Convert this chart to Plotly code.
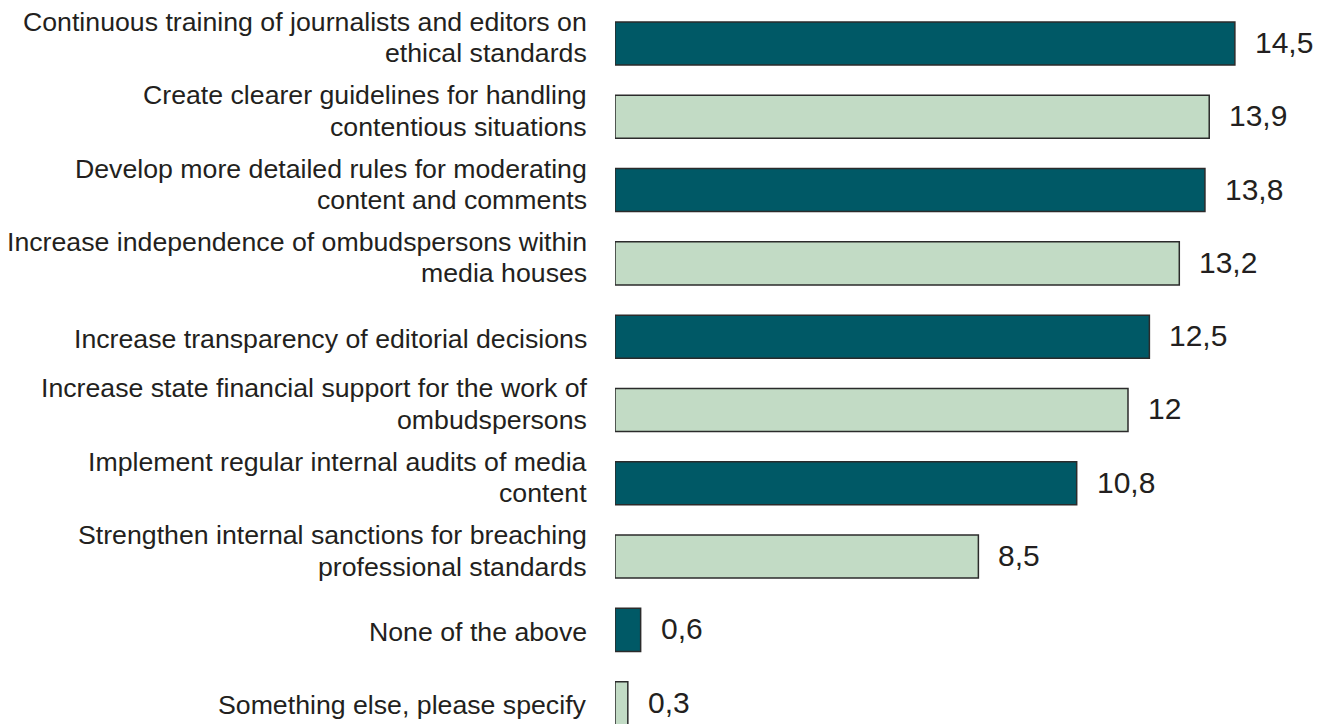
import plotly.graph_objects as go

categories = [
    "Continuous training of journalists and editors on<br>ethical standards",
    "Create clearer guidelines for handling<br>contentious situations",
    "Develop more detailed rules for moderating<br>content and comments",
    "Increase independence of ombudspersons within<br>media houses",
    "Increase transparency of editorial decisions",
    "Increase state financial support for the work of<br>ombudspersons",
    "Implement regular internal audits of media<br>content",
    "Strengthen internal sanctions for breaching<br>professional standards",
    "None of the above",
    "Something else, please specify",
]
values = [14.5, 13.9, 13.8, 13.2, 12.5, 12.0, 10.8, 8.5, 0.6, 0.3]
value_labels = ["14,5", "13,9", "13,8", "13,2", "12,5", "12", "10,8", "8,5", "0,6", "0,3"]

DARK = "#005966"
LIGHT = "#c2dbc5"
TEXT = "#231f20"
FONT = "Liberation Sans, Arial, Helvetica, sans-serif"

positions = list(range(len(categories)))
colors = [DARK if i % 2 == 0 else LIGHT for i in positions]

fig = go.Figure(
    go.Bar(
        x=values,
        y=positions,
        orientation="h",
        width=0.587,
        marker=dict(color=colors, line=dict(color="#2b2b2b", width=1.5)),
        hoverinfo="skip",
    )
)

annotations = []
# Category labels: each text line is placed on its own so the line spacing stays tight
for pos, cat in zip(positions, categories):
    lines = cat.split("<br>")
    shifts = [-2] if len(lines) == 1 else [21.5, -10]
    for line, dy in zip(lines, shifts):
        annotations.append(dict(
            x=0, xref="paper", y=pos, yref="y",
            text=line, showarrow=False,
            xanchor="right", yanchor="middle", align="right",
            xshift=-26, yshift=dy,
            font=dict(family=FONT, size=26.7, color=TEXT),
        ))
# Value labels to the right of each bar
for pos, val, lab in zip(positions, values, value_labels):
    annotations.append(dict(
        x=val, xref="x", y=pos, yref="y",
        text=lab, showarrow=False,
        xanchor="left", yanchor="middle",
        xshift=18, yshift=1,
        font=dict(family=FONT, size=30, color=TEXT),
    ))

fig.update_layout(
    width=1318, height=724,
    margin=dict(l=615, r=19, t=0, b=0),
    paper_bgcolor="white", plot_bgcolor="white",
    showlegend=False,
    annotations=annotations,
    xaxis=dict(range=[0, 16], visible=False, fixedrange=True),
    yaxis=dict(range=[9.284, -0.593], visible=False, fixedrange=True),
)

fig.write_html("out.html", config={"displayModeBar": False})
